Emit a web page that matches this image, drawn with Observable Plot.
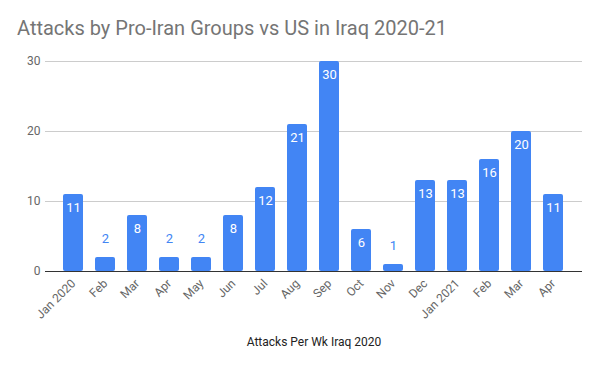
<!DOCTYPE html>
<html>
<head>
<meta charset="utf-8">
<script src="https://cdn.jsdelivr.net/npm/d3@7"></script>
<script src="https://cdn.jsdelivr.net/npm/@observablehq/plot@0.6"></script>
<style>
  html, body { margin: 0; padding: 0; background: #fff; }
  #wrap { position: relative; width: 600px; height: 371px; font-family: Roboto, sans-serif; }
  #title { position: absolute; left: 17px; top: 18px; font-size: 20px; color: #757575; white-space: nowrap; line-height: 1; }
  #chart { position: absolute; left: 0; top: 0; }
</style>
</head>
<body>
<div id="wrap">
  <div id="chart"></div>
  <div id="title">Attacks by Pro-Iran Groups vs US in Iraq 2020-21</div>
</div>
<script>
const months = ["Jan 2020","Feb","Mar","Apr","May","Jun","Jul","Aug","Sep","Oct","Nov","Dec","Jan 2021","Feb","Mar","Apr"];
const attacks = [11,2,8,2,2,8,12,21,30,6,1,13,13,16,20,11];
const yTicks = [0,10,20,30];
const xTitle = "Attacks Per Wk Iraq 2020";

const data = months.map((m, i) => ({i, m, v: attacks[i]}));
const blue = "#4285f4";

const chart = Plot.plot({
  width: 600,
  height: 371,
  marginLeft: 45,
  marginRight: 18,
  marginTop: 61,
  marginBottom: 100,
  style: {fontFamily: "Roboto, sans-serif", fontSize: "12px", background: "#fff"},
  x: {type: "band", domain: d3.range(months.length), paddingInner: 0.36, paddingOuter: 0.39},
  y: {domain: [0, 30]},
  marks: [
    Plot.ruleY(yTicks.filter(t => t > 0), {stroke: "#cccccc", strokeWidth: 1}),
    Plot.barY(data, {x: "i", y: "v", fill: blue, rx: 2}),
    Plot.ruleY([0], {stroke: "#333333", strokeWidth: 1.2}),
    Plot.axisY({ticks: yTicks, tickSize: 0, tickPadding: 5, label: null, fill: "#666", fontSize: 12}),
    Plot.axisX({tickSize: 0, tickPadding: 10, tickRotate: -45, tickFormat: i => months[i], label: null, fill: "#666", fontSize: 12}),
    Plot.text(data.filter(d => d.v >= 3), {x: "i", y: "v", text: d => String(d.v), dy: 13, fill: "#fff", fontSize: 13}),
    Plot.text(data.filter(d => d.v < 3), {x: "i", y: "v", text: d => String(d.v), dy: -19, fill: blue, fontSize: 13}),
    Plot.text([xTitle], {frameAnchor: "bottom", dy: 74, text: d => d, fill: "#222", fontSize: 12})
  ]
});
document.getElementById("chart").appendChild(chart);
</script>
</body>
</html>
